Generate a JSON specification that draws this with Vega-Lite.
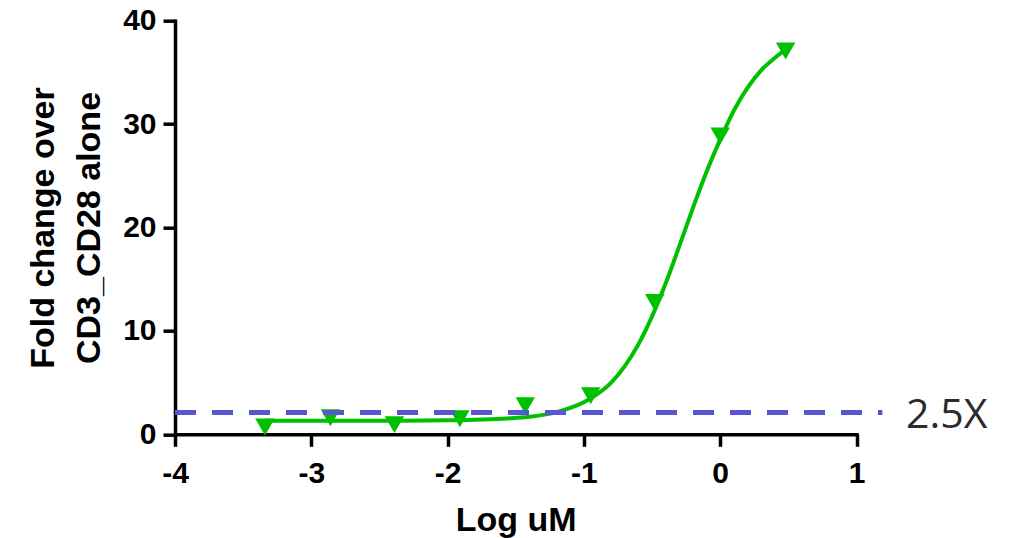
{
  "$schema": "https://vega.github.io/schema/vega-lite/v6.json",
  "autosize": "none",
  "width": 681.5,
  "height": 413.6,
  "padding": {"left": 175, "top": 20.7, "right": 158.5, "bottom": 103.7},
  "background": "white",
  "config": {
    "view": {"stroke": null},
    "axis": {
      "grid": false,
      "domainColor": "black",
      "domainWidth": 3.5,
      "domainCap": "square",
      "tickColor": "black",
      "tickWidth": 3.5,
      "tickSize": 12,
      "labelFont": "Liberation Sans",
      "labelFontWeight": "bold",
      "labelFontSize": 30,
      "labelColor": "black",
      "titleFont": "Liberation Sans",
      "titleFontWeight": "bold",
      "titleColor": "black"
    }
  },
  "datasets": {
    "points": [
      {"logc": -3.34, "fold": 0.7},
      {"logc": -2.86, "fold": 1.6},
      {"logc": -2.39, "fold": 0.93},
      {"logc": -1.91, "fold": 1.5},
      {"logc": -1.43, "fold": 2.77},
      {"logc": -0.95, "fold": 3.73},
      {"logc": -0.48, "fold": 12.75},
      {"logc": 0.0, "fold": 28.85},
      {"logc": 0.48, "fold": 37.07}
    ],
    "curve": [
      {"logc": -3.34, "fold": 1.30},
      {"logc": -3.0, "fold": 1.30},
      {"logc": -2.5, "fold": 1.31},
      {"logc": -2.0, "fold": 1.35},
      {"logc": -1.8, "fold": 1.40},
      {"logc": -1.6, "fold": 1.50},
      {"logc": -1.4, "fold": 1.70},
      {"logc": -1.3, "fold": 1.88},
      {"logc": -1.2, "fold": 2.15},
      {"logc": -1.1, "fold": 2.55},
      {"logc": -1.0, "fold": 3.10},
      {"logc": -0.9, "fold": 3.90},
      {"logc": -0.8, "fold": 5.00},
      {"logc": -0.7, "fold": 6.60},
      {"logc": -0.6, "fold": 8.70},
      {"logc": -0.5, "fold": 11.40},
      {"logc": -0.4, "fold": 14.60},
      {"logc": -0.3, "fold": 18.20},
      {"logc": -0.2, "fold": 21.90},
      {"logc": -0.1, "fold": 25.40},
      {"logc": 0.0, "fold": 28.50},
      {"logc": 0.1, "fold": 31.30},
      {"logc": 0.2, "fold": 33.50},
      {"logc": 0.3, "fold": 35.20},
      {"logc": 0.4, "fold": 36.40},
      {"logc": 0.48, "fold": 37.20}
    ],
    "threshold": [
      {"x1": -4, "x2": 1.19, "fold": 2.1, "label": "2.5X", "xl": 1.363}
    ]
  },
  "layer": [
    {
      "data": {"name": "curve"},
      "mark": {"type": "line", "color": "#00C000", "strokeWidth": 4, "interpolate": "monotone"},
      "encoding": {
        "x": {
          "field": "logc", "type": "quantitative",
          "scale": {"domain": [-4, 1], "nice": false, "zero": false},
          "axis": {
            "values": [-4, -3, -2, -1, 0, 1],
            "labelExpr": "'' + datum.value",
            "title": "Log uM",
            "titleFontSize": 34,
            "titleBaseline": "top",
            "titleY": 69,
            "labelPadding": 12,
            "labelFlush": false,
            "labelOverlap": false
          }
        },
        "y": {
          "field": "fold", "type": "quantitative",
          "scale": {"domain": [0, 40], "nice": false},
          "axis": {
            "values": [0, 10, 20, 30, 40],
            "labelExpr": "'' + datum.value",
            "title": ["Fold change over", "CD3_CD28 alone"],
            "titleFontSize": 34,
            "titleLineHeight": 46,
            "titleBaseline": "top",
            "titleX": -149,
            "labelPadding": 7,
            "labelFlush": false,
            "labelOverlap": false
          }
        }
      }
    },
    {
      "data": {"name": "points"},
      "mark": {"type": "point", "shape": "triangle-down", "filled": true, "color": "#00C000", "size": 380, "opacity": 1},
      "encoding": {
        "x": {"field": "logc", "type": "quantitative"},
        "y": {"field": "fold", "type": "quantitative"}
      }
    },
    {
      "data": {"name": "threshold"},
      "mark": {"type": "rule", "color": "#5757D1", "strokeWidth": 5, "strokeDash": [21, 16]},
      "encoding": {
        "x": {"field": "x1", "type": "quantitative"},
        "x2": {"field": "x2"},
        "y": {"field": "fold", "type": "quantitative"}
      }
    },
    {
      "data": {"name": "threshold"},
      "mark": {"type": "text", "font": "Open Sans", "fontSize": 41, "color": "#2b2b2b", "align": "left", "baseline": "alphabetic", "dy": 15.4},
      "encoding": {
        "x": {"field": "xl", "type": "quantitative"},
        "y": {"field": "fold", "type": "quantitative"},
        "text": {"field": "label"}
      }
    }
  ]
}
